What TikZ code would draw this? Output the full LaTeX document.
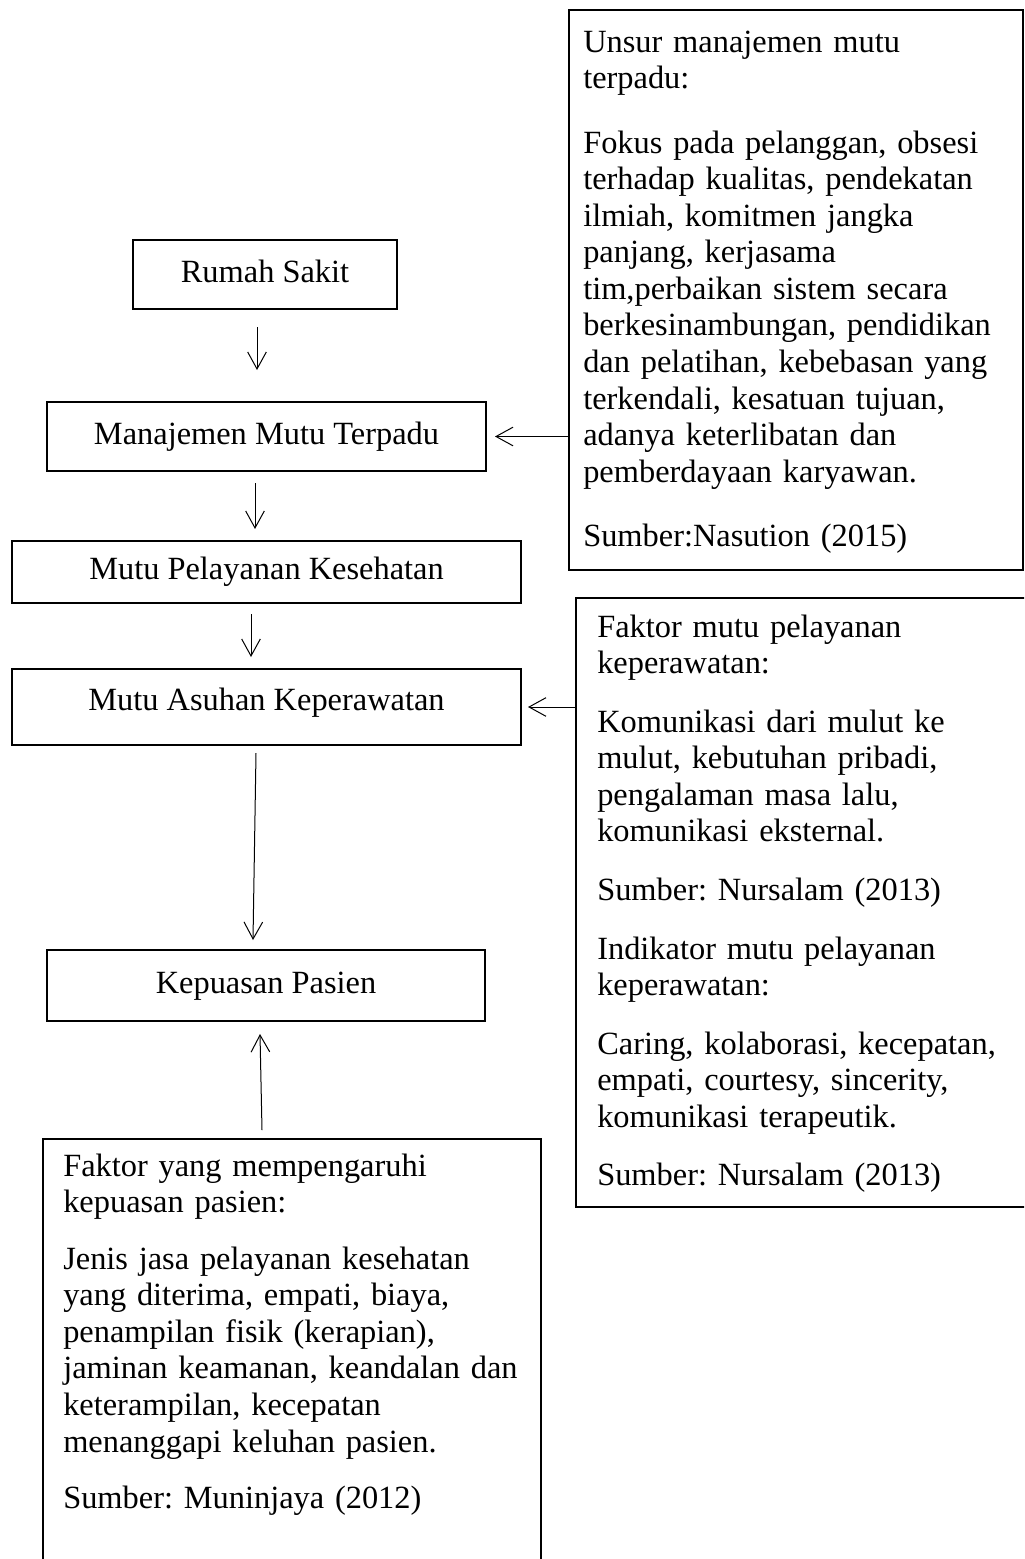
\documentclass[tikz,border=0pt]{standalone}
\usepackage{fontspec}
\setmainfont{Liberation Serif}
\usetikzlibrary{arrows.meta,calc}
\tikzset{
  box/.style={draw, line width=1.5pt, inner sep=0pt},
  simple/.style={box, font=\fontsize{24.3pt}{28pt}\selectfont, text height=16.8pt, text depth=5.3pt},
  para/.style={anchor=north west, inner sep=0pt, align=left, text width=345pt, font=\fontsize{24.3pt}{27.4pt}\selectfont\frenchspacing},
  arr/.style={-{Straight Barb[length=12.75pt,width=14pt]}, line width=0.75pt},
}
\begin{document}
\begin{tikzpicture}[x=0.75pt,y=-0.75pt]
\useasboundingbox (0,0) rectangle (1024,1559);
\clip (0,0) rectangle (1024,1559);
% left chain
\node[simple, minimum width=198pt, minimum height=51.75pt] (rumah) at (265,274.5) {Rumah Sakit};
\node[simple, minimum width=329.25pt, minimum height=51.75pt] (manaj) at (266.5,436.5) {Manajemen Mutu Terpadu};
\node[simple, minimum width=381.75pt, minimum height=46.5pt] (pelay) at (266.5,572) {Mutu Pelayanan Kesehatan};
\node[simple, minimum width=381.75pt, minimum height=57pt, text depth=12.3pt] (asuhan) at (266.5,707) {Mutu Asuhan Keperawatan};
\node[simple, minimum width=328.5pt, minimum height=53.25pt] (puas) at (266,985.5) {Kepuasan Pasien};
% text boxes
\node[box, anchor=north west, minimum width=340.5pt, minimum height=420pt] (rt) at (568,9) {};
\node[box, anchor=north west, minimum width=348.75pt, minimum height=456.75pt] (rm) at (575,597) {};
\node[box, anchor=north west, minimum width=373.5pt, minimum height=345pt] (bl) at (42,1138) {};
\node[para] (rttext) at (583,28) {\rule{0pt}{18pt}Unsur manajemen mutu\\
terpadu:\\[21pt]
Fokus pada pelanggan, obsesi\\
terhadap kualitas, pendekatan\\
ilmiah, komitmen jangka\\
panjang, kerjasama\\
tim,perbaikan sistem secara\\
berkesinambungan, pendidikan\\
dan pelatihan, kebebasan yang\\
terkendali, kesatuan tujuan,\\
adanya keterlibatan dan\\
pemberdayaan karyawan.\\[21pt]
Sumber:Nasution (2015)};
\node[para] (rmtext) at (597,613) {\rule{0pt}{18pt}Faktor mutu pelayanan\\
keperawatan:\\[16.5pt]
Komunikasi dari mulut ke\\
mulut, kebutuhan pribadi,\\
pengalaman masa lalu,\\
komunikasi eksternal.\\[16.5pt]
Sumber: Nursalam (2013)\\[16.5pt]
Indikator mutu pelayanan\\
keperawatan:\\[16.5pt]
Caring, kolaborasi, kecepatan,\\
empati, courtesy, sincerity,\\
komunikasi terapeutik.\\[16.5pt]
Sumber: Nursalam (2013)};
\node[para] (bltext) at (63,1152) {\rule{0pt}{18pt}Faktor yang mempengaruhi\\
kepuasan pasien:\\[15pt]
Jenis jasa pelayanan kesehatan\\
yang diterima, empati, biaya,\\
penampilan fisik (kerapian),\\
jaminan keamanan, keandalan dan\\
keterampilan, kecepatan\\
menanggapi keluhan pasien.\\[15pt]
Sumber: Muninjaya (2012)};
% connectors
\draw[arr] ([shift={(-8,17)}]rumah.south) -- ([shift={(-9.5,-31)}]manaj.north);
\draw[arr] ([shift={(-11.5,11)}]manaj.south) -- ([shift={(-11.5,-11)}]pelay.north);
\draw[arr] ([shift={(-15.5,10)}]pelay.south) -- ([shift={(-15.5,-11)}]asuhan.north);
\draw[arr] ([shift={(-10.5,7)}]asuhan.south) -- ([shift={(-13,-9)}]puas.north);
\draw[arr] ([shift={(-30,-8)}]bl.north) -- ([shift={(-6,12)}]puas.south);
\draw[arr] (rt.west |- manaj.east) -- ([shift={(8,0)}]manaj.east);
\draw[arr] (rm.west |- asuhan.east) -- ([shift={(6,0)}]asuhan.east);
\end{tikzpicture}
\end{document}
